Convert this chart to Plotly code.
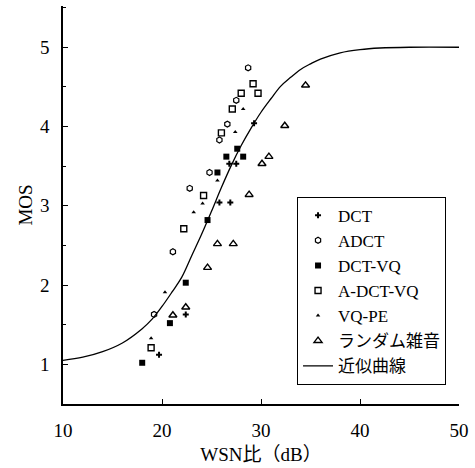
import plotly.graph_objects as go

# Subjective score (MOS) vs. weighted spectral SNR for each coding method
dct_x = [29.3, 26.8, 27.5, 25.8, 26.9, 22.4, 19.7]
dct_y = [4.04, 3.53, 3.53, 3.04, 3.04, 1.63, 1.12]

adct_x = [28.7, 27.5, 26.6, 25.8, 24.8, 22.8, 21.1, 19.2]
adct_y = [4.74, 4.33, 4.03, 3.83, 3.42, 3.22, 2.42, 1.63]

dctvq_x = [27.6, 26.5, 28.2, 25.6, 24.6, 22.4, 20.8, 18.0]
dctvq_y = [3.72, 3.62, 3.62, 3.42, 2.82, 2.03, 1.52, 1.02]

adctvq_x = [29.2, 28.0, 29.7, 27.1, 26.0, 24.2, 22.2, 18.9]
adctvq_y = [4.54, 4.42, 4.42, 4.22, 3.92, 3.13, 2.71, 1.21]

vqpe_x = [28.2, 27.4, 25.6, 24.1, 23.2, 20.3, 18.9]
vqpe_y = [4.22, 3.93, 3.32, 3.03, 2.92, 1.91, 1.33]

noise_x = [34.5, 32.4, 30.8, 30.1, 28.8, 25.6, 27.2, 24.6, 22.4, 21.1]
noise_y = [4.52, 4.01, 3.62, 3.53, 3.14, 2.52, 2.52, 2.22, 1.72, 1.62]

# Approximating curve, sampled along its length
fit_x = [10, 12, 14, 16, 18, 19, 20, 21, 22, 23, 24, 25, 26, 27, 28, 29,
         30, 31, 32, 33, 34, 35, 36, 38, 40, 42, 45, 50]
fit_y = [1.05, 1.09, 1.16, 1.27, 1.45, 1.57, 1.73, 1.91, 2.10, 2.37, 2.64,
         2.93, 3.23, 3.51, 3.76, 3.98, 4.18, 4.35, 4.51, 4.62, 4.72, 4.79,
         4.85, 4.93, 4.97, 4.99, 5.0, 5.0]

x_ticks = [10, 20, 30, 40, 50]
y_ticks = [1, 2, 3, 4, 5]

FONT = "Liberation Serif, Noto Sans CJK JP, serif"

fig = go.Figure()

series = [
    ("DCT", dct_x, dct_y, dict(symbol="cross", size=5, color="black")),
    ("ADCT", adct_x, adct_y,
     dict(symbol="hexagon-open", size=6, color="black", line=dict(width=1.2))),
    ("DCT-VQ", dctvq_x, dctvq_y, dict(symbol="square", size=6, color="black")),
    ("A-DCT-VQ", adctvq_x, adctvq_y,
     dict(symbol="square-open", size=6, color="black", line=dict(width=1.4))),
    ("VQ-PE", vqpe_x, vqpe_y, dict(symbol="triangle-up", size=4, color="black")),
    ("ランダム雑音", noise_x, noise_y,
     dict(symbol="triangle-up-open", size=7, color="black", line=dict(width=1.4))),
]

for name, xs, ys, mk in series:
    fig.add_trace(go.Scatter(x=xs, y=ys, mode="markers", name=name, marker=mk))

fig.add_trace(go.Scatter(
    x=fit_x, y=fit_y, mode="lines", name="近似曲線",
    line=dict(color="black", width=1.3, shape="spline"),
))

axis_common = dict(
    showline=True, linecolor="black", linewidth=1.5,
    ticks="inside", tickcolor="black", ticklen=5, tickwidth=1,
    showgrid=False, zeroline=False, mirror=False,
    tickfont=dict(family=FONT, size=19, color="black"),
    ticklabelstandoff=8,
)

fig.update_xaxes(
    range=[10, 50], tickvals=x_ticks,
    title=dict(text="WSN比（dB）", font=dict(family=FONT, size=19, color="black"),
               standoff=8),
    **axis_common,
)
fig.update_yaxes(
    range=[0.5, 5.52], tickvals=y_ticks,
    minor=dict(ticks="inside", dtick=0.5, tick0=0.5, ticklen=3,
               tickcolor="black", showgrid=False),
    title=dict(text="MOS", font=dict(family=FONT, size=19, color="black"),
               standoff=2),
    **axis_common,
)

fig.update_layout(
    width=475, height=468,
    margin=dict(l=63, r=16, t=6, b=61),
    plot_bgcolor="white", paper_bgcolor="white",
    font=dict(family=FONT, color="black"),
    legend=dict(
        x=0.591, y=0.521, xanchor="left", yanchor="top",
        bordercolor="black", borderwidth=1, bgcolor="white",
        font=dict(family=FONT, size=17, color="black"),
        tracegroupgap=0, itemsizing="trace",
    ),
)

fig.write_html("out.html")
